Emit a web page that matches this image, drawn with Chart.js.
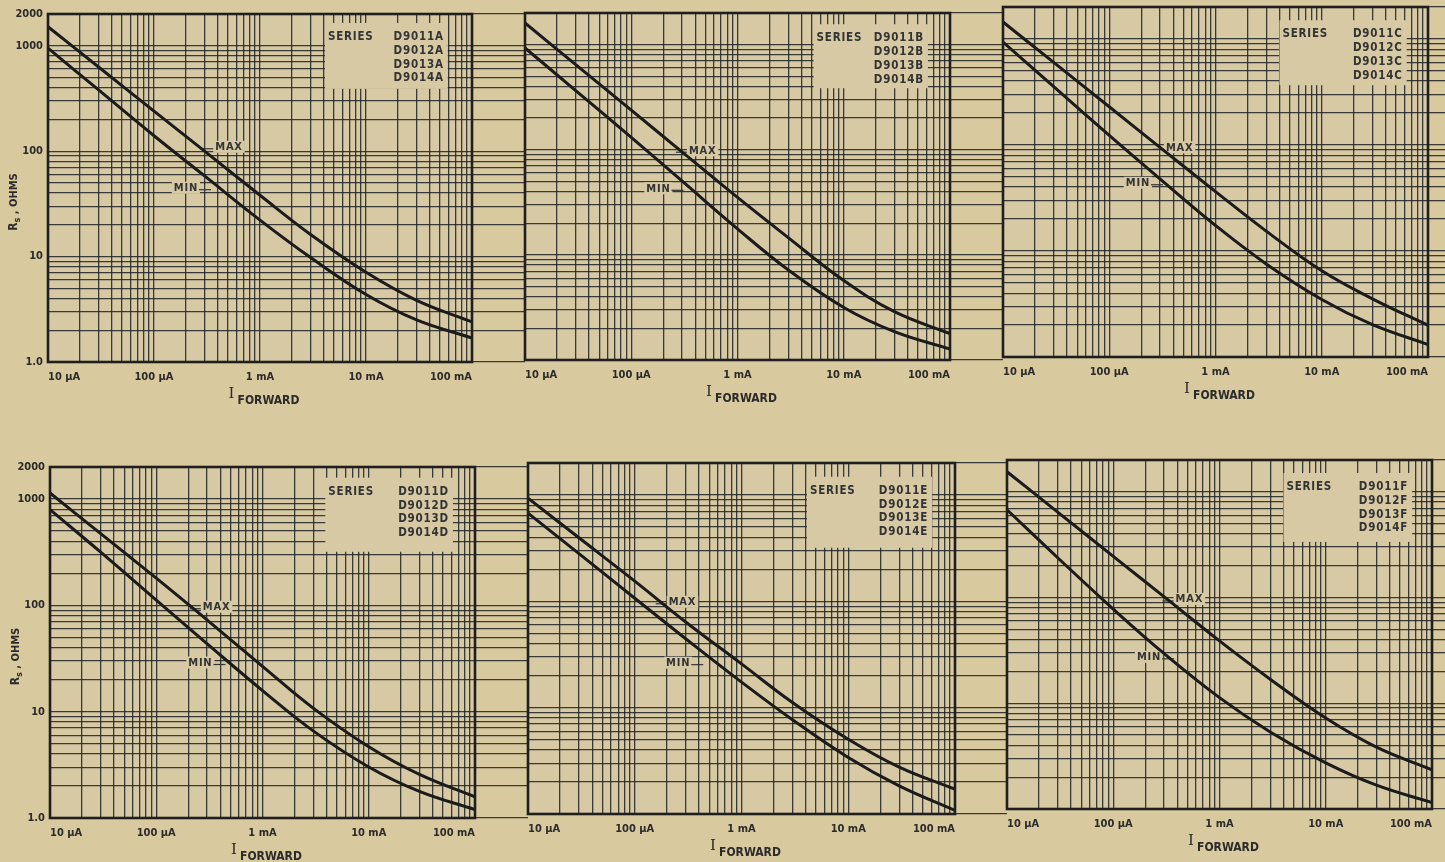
<!DOCTYPE html>
<html>
<head>
<meta charset="utf-8">
<script src="https://cdn.jsdelivr.net/npm/chart.js@4.4.1/dist/chart.umd.min.js"></script>
<style>
  html, body { margin:0; padding:0; background:#d9c99e; width:1445px; height:862px; overflow:hidden; }
  canvas { position:absolute; }
</style>
</head>
<body>
<script>
// ---------------- DATA ----------------
const currentA = [1e-5, 3e-5, 1e-4, 3e-4, 1e-3, 3e-3, 1e-2, 3e-2, 1e-1];   // I forward (A)

const maxA = [1514, 628, 240, 100, 38.2, 16.2, 7.1, 3.85, 2.4];
const minA = [948, 381, 140, 58.2, 22.2, 9.8, 4.37, 2.51, 1.69];
const maxB = [1607, 646, 238, 95.5, 35.2, 14.6, 5.7, 2.88, 1.78];
const minB = [929, 366, 131, 50.5, 17.7, 7.2, 3.16, 1.86, 1.27];
const maxC = [1445, 600, 229, 95, 36.3, 15.4, 6.5, 3.54, 1.99];
const minC = [933, 355, 123, 47.9, 17.4, 7.55, 3.49, 2.02, 1.31];
const maxD = [1138, 472, 180, 73, 26.7, 10.8, 4.68, 2.57, 1.58];
const minD = [794, 316, 112, 43.6, 15.8, 6.6, 3.02, 1.78, 1.2];
const maxE = [933, 396, 155, 64, 25.8, 11.2, 5.05, 2.76, 1.71];
const minE = [676, 281, 107, 44.5, 17.4, 7.7, 3.4, 1.84, 1.08];
const maxF = [1549, 643, 245, 102, 38.9, 16.9, 7.26, 3.85, 2.35];
const minF = [676, 238, 77.8, 29.6, 11.3, 5.36, 2.73, 1.68, 1.15];

const xTickValues = [1e-5, 1e-4, 1e-3, 1e-2, 1e-1];
const xTickLabels = ['10 µA', '100 µA', '1 mA', '10 mA', '100 mA'];
const yTickValues = [1, 10, 100, 1000, 2000];
const yTickLabels = ['1.0', '10', '100', '1000', '2000'];
const seriesNumbers = ['D9011', 'D9012', 'D9013', 'D9014'];
const seriesSuffix = ['A', 'B', 'C', 'D', 'E', 'F'];
const curveNames = ['MAX', 'MIN'];

// ---------------- STYLE ----------------
const PLOT_BG = '#d6c9a4';
const GRID = 'rgba(34,38,40,0.88)';
const INK = '#1f1f1f';
const TEXT = '#2b2b2b';
const FONT = '"DejaVu Sans Condensed", "DejaVu Sans", sans-serif';

// log grid positions (1..9 per decade)
function logGrid(minExp, maxExp, extra) {
  const out = [];
  for (let e = minExp; e < maxExp; e++) {
    for (let m = 1; m <= 9; m++) out.push(Number((m * Math.pow(10, e)).toPrecision(12)));
  }
  return out.concat(extra);
}
const xGrid = logGrid(-5, -1, [1e-1]);
const yGrid = logGrid(0, 3, [1000, 2000]);

function labelFor(values, labels) {
  return (v) => {
    const i = values.findIndex(t => Math.abs(t - v) / t < 1e-6);
    return i >= 0 ? labels[i] : '';
  };
}

// ---------------- PANELS (layout) ----------------
const panels = [
  { sfx: 0, max: maxA, min: minA, canvas: [0, 0, 525, 420],    plot: [48, 14, 472, 362],   yLabels: true,
    box: [4.1e-3, 5.9e-2, 390, 1644], maxLbl: [5.1e-4, 110], minLbl: [2.0e-4, 45] },
  { sfx: 1, max: maxB, min: minB, canvas: [478, 0, 525, 420],  plot: [525, 13, 950, 360],  yLabels: false,
    box: [5.2e-3, 6.2e-2, 385, 1563], maxLbl: [4.7e-4, 99], minLbl: [1.8e-4, 43] },
  { sfx: 2, max: maxC, min: minC, canvas: [958, 0, 487, 420],  plot: [1003, 7, 1428, 357], yLabels: false,
    box: [4.0e-3, 6.3e-2, 366, 1500], maxLbl: [4.6e-4, 95], minLbl: [1.86e-4, 44] },
  { sfx: 3, max: maxD, min: minD, canvas: [0, 440, 528, 422],  plot: [50, 467, 475, 818],  yLabels: true,
    box: [3.9e-3, 6.2e-2, 319, 1585], maxLbl: [3.7e-4, 97], minLbl: [2.6e-4, 29] },
  { sfx: 4, max: maxE, min: minE, canvas: [482, 440, 525, 422], plot: [528, 463, 955, 814], yLabels: false,
    box: [4.1e-3, 6.1e-2, 319, 1486], maxLbl: [2.8e-4, 99], minLbl: [2.55e-4, 26.5] },
  { sfx: 5, max: maxF, min: minF, canvas: [962, 440, 483, 422], plot: [1007, 460, 1432, 809], yLabels: false,
    box: [4.0e-3, 6.5e-2, 336, 1507], maxLbl: [5.2e-4, 97], minLbl: [2.17e-4, 27.5] }
];

// ---------------- DECORATION PLUGIN ----------------
const decor = {
  id: 'decor',
  beforeDraw(chart) {
    const { ctx, chartArea: a } = chart;
    ctx.save();
    ctx.fillStyle = PLOT_BG;
    ctx.fillRect(a.left, a.top, a.right - a.left, a.bottom - a.top);
    ctx.restore();
  },
  beforeDatasetsDraw(chart, args, o) {
    const { ctx } = chart;
    const xs = chart.scales.x, ys = chart.scales.y;
    const bx0 = xs.getPixelForValue(o.box[0]), bx1 = xs.getPixelForValue(o.box[1]);
    const by0 = ys.getPixelForValue(o.box[3]), by1 = ys.getPixelForValue(o.box[2]);
    ctx.save();
    ctx.fillStyle = PLOT_BG;
    ctx.fillRect(bx0, by0, bx1 - bx0, by1 - by0);
    ctx.fillStyle = '#333';
    ctx.font = '600 11.5px ' + FONT;
    try { ctx.letterSpacing = '0.8px'; } catch (e) {}
    ctx.textBaseline = 'middle';
    ctx.textAlign = 'left';
    ctx.fillText('SERIES', bx0 + 3, by0 + 14);
    ctx.textAlign = 'right';
    seriesNumbers.forEach((s, i) => {
      ctx.fillText(s + o.suffix, bx1 - 4, by0 + 14 + i * 13.8);
    });
    ctx.font = 'bold 11px ' + FONT;
    ctx.textAlign = 'center';
    const drawLbl = (txt, pos, side) => {
      const px = xs.getPixelForValue(pos[0]), py = ys.getPixelForValue(pos[1]);
      const w = ctx.measureText(txt).width;
      ctx.fillStyle = PLOT_BG;
      ctx.fillRect(px - w / 2 - 2, py - 6, w + 4, 12);
      ctx.fillStyle = '#333';
      ctx.fillText(txt, px, py + 0.5);
      ctx.strokeStyle = '#333';
      ctx.lineWidth = 1.2;
      ctx.beginPath();
      if (side < 0) { ctx.moveTo(px - w / 2 - 2, py + 2); ctx.lineTo(px - w / 2 - 13, py + 2); }
      else { ctx.moveTo(px + w / 2 + 1, py + 2); ctx.lineTo(px + w / 2 + 13, py + 2); }
      ctx.stroke();
    };
    drawLbl(curveNames[0], o.maxLbl, -1);
    drawLbl(curveNames[1], o.minLbl, 1);
    ctx.restore();
  },
  afterDatasetsDraw(chart) {
    const { ctx, chartArea: a } = chart;
    ctx.save();
    ctx.strokeStyle = INK;
    ctx.lineWidth = 2.6;
    ctx.strokeRect(a.left, a.top, a.right - a.left, a.bottom - a.top);
    ctx.restore();
  },
  afterDraw(chart, args, o) {
    const { ctx, chartArea: a } = chart;
    ctx.save();
    ctx.fillStyle = TEXT;
    ctx.textBaseline = 'alphabetic';
    ctx.textAlign = 'left';
    ctx.font = '15px "DejaVu Serif", serif';
    const wI = ctx.measureText('I').width;
    ctx.font = 'bold 12px ' + FONT;
    const wF = ctx.measureText('FORWARD').width;
    const total = wI + 3 + wF;
    const cx = (a.left + a.right) / 2 + 4;
    const x = cx - total / 2;
    ctx.font = '15px "DejaVu Serif", serif';
    ctx.fillText('I', x, a.bottom + 36);
    ctx.font = 'bold 12px ' + FONT;
    ctx.fillText('FORWARD', x + wI + 3, a.bottom + 42);
    if (o.yTitle) {
      const cy = (a.top + a.bottom) / 2 + 14;
      ctx.translate(a.left - 35, cy);
      ctx.rotate(-Math.PI / 2);
      ctx.font = 'bold 12px ' + FONT;
      const wR = ctx.measureText('R').width;
      ctx.font = 'bold 9px ' + FONT;
      const wS = ctx.measureText('s').width;
      ctx.font = 'bold 11px ' + FONT;
      const rest = ' , OHMS';
      const wRest = ctx.measureText(rest).width;
      const tx = -(wR + wS + wRest) / 2;
      ctx.font = 'bold 12px ' + FONT;
      ctx.fillText('R', tx, 4);
      ctx.font = 'bold 9px ' + FONT;
      ctx.fillText('s', tx + wR, 7);
      ctx.font = 'bold 11px ' + FONT;
      ctx.fillText(rest, tx + wR + wS, 4);
    }
    ctx.restore();
  }
};

// ---------------- BUILD ----------------
panels.forEach((p) => {
  const cv = document.createElement('canvas');
  const [cxp, cyp, cw, ch] = p.canvas;
  const [L, T, R, B] = p.plot;
  cv.width = cw; cv.height = ch;
  cv.style.left = cxp + 'px'; cv.style.top = cyp + 'px';
  cv.style.width = cw + 'px'; cv.style.height = ch + 'px';
  document.body.appendChild(cv);

  const yW = L - cxp, gapW = cxp + cw - R, topPad = T - cyp, xH = cyp + ch - B;
  const tickFont = { family: FONT, size: 11, weight: 'bold' };
  const mk = (vals) => currentA.map((c, i) => ({ x: c, y: vals[i] }));

  new Chart(cv, {
    type: 'line',
    data: {
      datasets: [
        { label: curveNames[0], data: mk(p.max), borderColor: '#1b1b1b', borderWidth: 3, pointRadius: 0, tension: 0.4, fill: false },
        { label: curveNames[1], data: mk(p.min), borderColor: '#1b1b1b', borderWidth: 3, pointRadius: 0, tension: 0.4, fill: false }
      ]
    },
    options: {
      responsive: false,
      animation: false,
      devicePixelRatio: 1,
      layout: { autoPadding: false, padding: { top: topPad, left: 0, right: 0, bottom: 0 } },
      plugins: {
        legend: { display: false },
        tooltip: { enabled: false },
        decor: { box: p.box, suffix: seriesSuffix[p.sfx], maxLbl: p.maxLbl, minLbl: p.minLbl, yTitle: p.yLabels }
      },
      scales: {
        x: {
          type: 'logarithmic', position: 'bottom', min: 1e-5, max: 1e-1,
          afterBuildTicks: (s) => { s.ticks = xGrid.map(v => ({ value: v })); },
          afterFit: (s) => { s.height = xH; s.paddingLeft = 0; s.paddingRight = 0; },
          grid: { color: GRID, lineWidth: 1.3, drawTicks: false },
          border: { display: false },
          ticks: { autoSkip: false, maxRotation: 0, minRotation: 0, padding: 9, align: 'inner', color: TEXT, font: tickFont,
                   callback: labelFor(xTickValues, xTickLabels) }
        },
        y: {
          type: 'logarithmic', position: 'left', min: 1, max: 2000,
          afterBuildTicks: (s) => { s.ticks = yGrid.map(v => ({ value: v })); },
          afterFit: (s) => { s.width = yW; s.paddingTop = 0; s.paddingBottom = 0; },
          grid: { color: GRID, lineWidth: 1.3, drawTicks: false },
          border: { display: false },
          ticks: { display: p.yLabels, autoSkip: false, padding: 5, color: TEXT, font: tickFont,
                   callback: labelFor(yTickValues, yTickLabels) }
        },
        y2: {
          type: 'logarithmic', position: 'right', min: 1, max: 2000,
          afterBuildTicks: (s) => { s.ticks = yGrid.map(v => ({ value: v })); },
          afterFit: (s) => { s.width = gapW; s.paddingTop = 0; s.paddingBottom = 0; },
          grid: { color: GRID, lineWidth: 1.3, drawOnChartArea: false, drawTicks: true, tickLength: gapW },
          border: { display: false },
          ticks: { display: false }
        }
      }
    },
    plugins: [decor]
  });
});
</script>
</body>
</html>
